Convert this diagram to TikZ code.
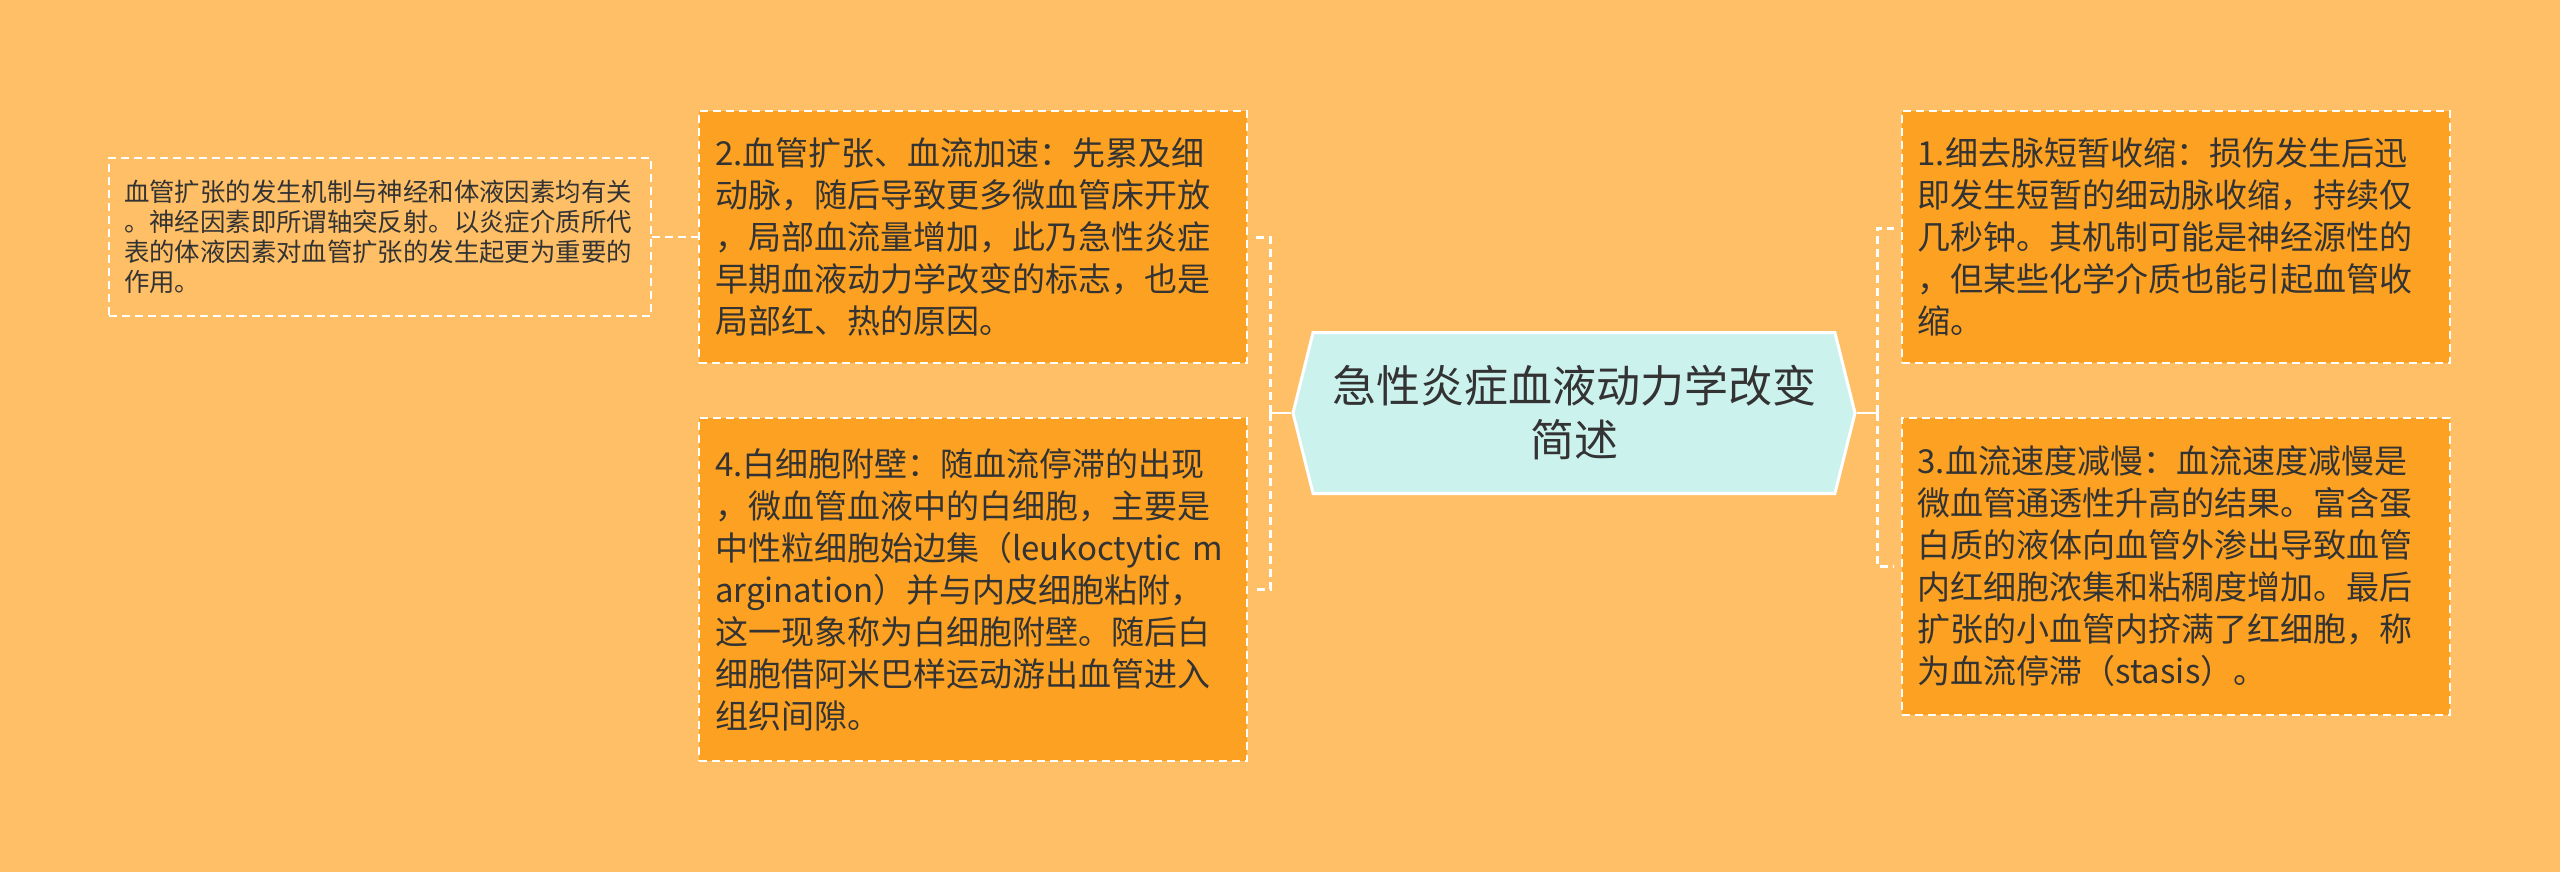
\documentclass[tikz,border=0pt]{standalone}
\usepackage{fontspec}
\setmainfont{Noto Sans CJK SC}
\usetikzlibrary{shapes.symbols}

\definecolor{bgorange}{RGB}{255,191,102}
\definecolor{cardorange}{RGB}{252,161,33}
\definecolor{hubcyan}{RGB}{204,242,238}
\definecolor{inktext}{RGB}{51,51,51}

\begin{document}
\begin{tikzpicture}[x=0.5pt, y=-0.5pt,
    card/.style={draw=white, line width=1pt, dash pattern=on 4pt off 2.5pt,
      fill=cardorange, text=inktext, align=left, text width=258pt,
      inner xsep=8pt, inner ysep=0pt,
      font=\fontsize{16.5}{21}\selectfont},
    notebox/.style={draw=white, line width=0.9pt, dash pattern=on 4pt off 2.5pt,
      text=inktext, align=left, text width=256pt, inner xsep=7.5pt,
      inner ysep=0pt, minimum height=79pt,
      font=\fontsize{12.7}{15}\selectfont},
    hubbox/.style={signal, signal to=west and east, signal pointer angle=152,
      draw=white, line width=1.5pt, fill=hubcyan, text=inktext,
      minimum width=281pt, minimum height=80.5pt, align=center,
      font=\fontsize{22}{27}\selectfont},
    spine/.style={draw=white, line width=1.3pt},
    branch/.style={draw=white, line width=1.5pt, dash pattern=on 4pt off 2.5pt,
      shorten >=3.5pt}]

  \fill[bgorange] (0,0) rectangle (2560,872);

  % centre
  \node[hubbox] (hub) at (1574,413) {急性炎症血液动力学改变\\简述};

  % left side
  \node[card, minimum height=126pt] (vasodil) at (973,237)
    {2.血管扩张、血流加速：先累及细\\动脉，随后导致更多微血管床开放\\，局部血流量增加，此乃急性炎症\\早期血液动力学改变的标志，也是\\局部红、热的原因。};
  \node[card, minimum height=171.5pt] (margin) at (973,589.5)
    {4.白细胞附壁：随血流停滞的出现\\，微血管血液中的白细胞，主要是\\中性粒细胞始边集（leukoctytic m\\argination）并与内皮细胞粘附，\\这一现象称为白细胞附壁。随后白\\细胞借阿米巴样运动游出血管进入\\组织间隙。};
  \node[notebox] (mech) at (380,237)
    {血管扩张的发生机制与神经和体液因素均有关\\。神经因素即所谓轴突反射。以炎症介质所代\\表的体液因素对血管扩张的发生起更为重要的\\作用。};

  % right side
  \node[card, minimum height=126pt] (constrict) at (2175.5,237)
    {1.细去脉短暂收缩：损伤发生后迅\\即发生短暂的细动脉收缩，持续仅\\几秒钟。其机制可能是神经源性的\\，但某些化学介质也能引起血管收\\缩。};
  \node[card, minimum height=148.5pt] (stasis) at (2175.5,566.5)
    {3.血流速度减慢：血流速度减慢是\\微血管通透性升高的结果。富含蛋\\白质的液体向血管外渗出导致血管\\内红细胞浓集和粘稠度增加。最后\\扩张的小血管内挤满了红细胞，称\\为血流停滞（stasis）。};

  % connectors
  \coordinate (lbus) at (1270,413);
  \coordinate (rbus) at (1877,413);
  \draw[spine] (hub.west) -- (lbus);
  \draw[spine] (hub.east) -- (rbus);
  \draw[branch] (lbus) |- (vasodil.east);
  \draw[branch] (lbus) |- (margin.east);
  \draw[branch] (rbus) |- ([yshift=4.5pt]constrict.west);
  \draw[branch] (rbus) |- (stasis.west);
  \draw[branch, line width=0.9pt, shorten >=0pt] (mech.east) -- (vasodil.west);
\end{tikzpicture}
\end{document}
